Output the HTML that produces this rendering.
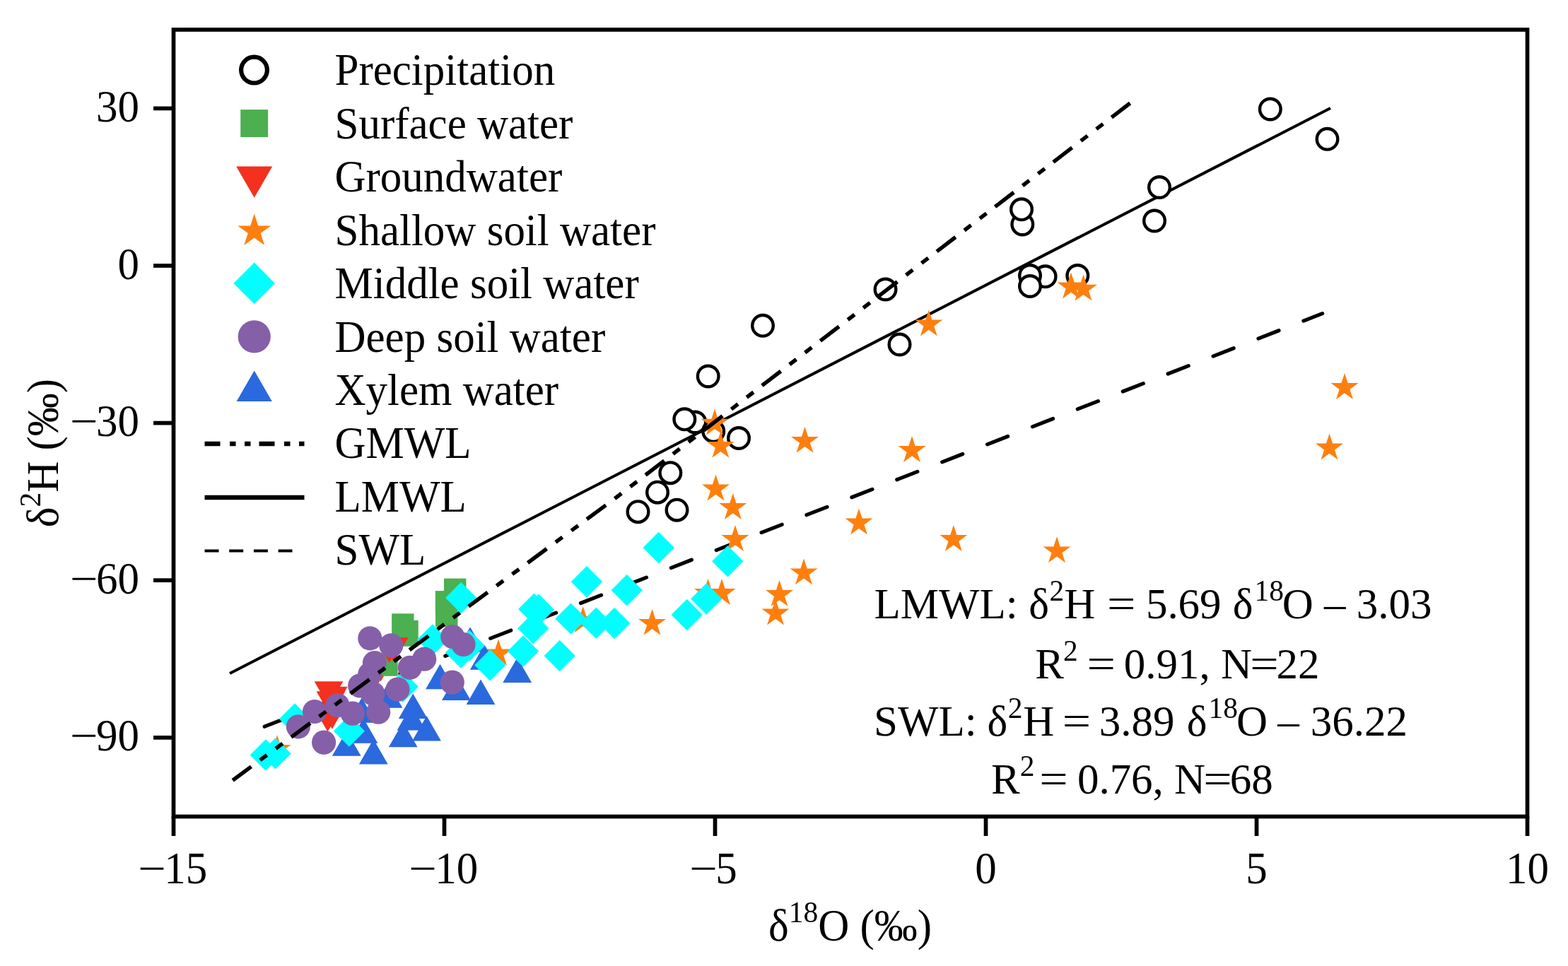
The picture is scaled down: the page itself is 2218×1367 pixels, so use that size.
<!DOCTYPE html>
<html lang="en"><head><meta charset="utf-8"><title>Isotope plot</title>
<style>html,body{margin:0;padding:0;background:#fff}body{width:2218px;height:1367px;overflow:hidden}svg{display:block}text{font-family:'Liberation Serif','Times New Roman',serif;font-size:61px;fill:#000}</style>
</head><body>
<svg width="2218" height="1367" viewBox="0 0 2218 1367">
<rect x="0" y="0" width="2218" height="1367" fill="#fff"/>
<g id="plot">
<line x1="325" y1="953" x2="1882" y2="153" stroke="#000" stroke-width="4.1"/>
<line x1="374.2" y1="1028.2" x2="1870.6" y2="443.7" stroke="#000" stroke-width="5.2" stroke-linecap="round" stroke-dasharray="31.2 37.4"/>
<circle cx="1796.8" cy="154.5" r="14.8" fill="#fff" stroke="#000" stroke-width="4.4"/>
<circle cx="1877.5" cy="196.8" r="14.8" fill="#fff" stroke="#000" stroke-width="4.4"/>
<circle cx="1640.0" cy="265.0" r="14.8" fill="#fff" stroke="#000" stroke-width="4.4"/>
<circle cx="1633.0" cy="312.5" r="14.8" fill="#fff" stroke="#000" stroke-width="4.4"/>
<circle cx="1446.3" cy="317.5" r="14.8" fill="#fff" stroke="#000" stroke-width="4.4"/>
<circle cx="1445.0" cy="296.3" r="14.8" fill="#fff" stroke="#000" stroke-width="4.4"/>
<circle cx="1478.6" cy="391.3" r="14.8" fill="#fff" stroke="#000" stroke-width="4.4"/>
<circle cx="1457.0" cy="390.0" r="14.8" fill="#fff" stroke="#000" stroke-width="4.4"/>
<circle cx="1457.0" cy="405.0" r="14.8" fill="#fff" stroke="#000" stroke-width="4.4"/>
<circle cx="1524.3" cy="390.0" r="14.8" fill="#fff" stroke="#000" stroke-width="4.4"/>
<circle cx="1252.5" cy="409.5" r="14.8" fill="#fff" stroke="#000" stroke-width="4.4"/>
<circle cx="1079.0" cy="460.8" r="14.8" fill="#fff" stroke="#000" stroke-width="4.4"/>
<circle cx="1272.5" cy="487.5" r="14.8" fill="#fff" stroke="#000" stroke-width="4.4"/>
<circle cx="1001.7" cy="532.5" r="14.8" fill="#fff" stroke="#000" stroke-width="4.4"/>
<circle cx="983.3" cy="597.5" r="14.8" fill="#fff" stroke="#000" stroke-width="4.4"/>
<circle cx="968.3" cy="593.3" r="14.8" fill="#fff" stroke="#000" stroke-width="4.4"/>
<circle cx="1009.2" cy="610.2" r="14.8" fill="#fff" stroke="#000" stroke-width="4.4"/>
<circle cx="1045.0" cy="620.0" r="14.8" fill="#fff" stroke="#000" stroke-width="4.4"/>
<circle cx="930.0" cy="696.7" r="14.8" fill="#fff" stroke="#000" stroke-width="4.4"/>
<circle cx="948.3" cy="669.2" r="14.8" fill="#fff" stroke="#000" stroke-width="4.4"/>
<circle cx="902.5" cy="724.2" r="14.8" fill="#fff" stroke="#000" stroke-width="4.4"/>
<circle cx="957.5" cy="721.7" r="14.8" fill="#fff" stroke="#000" stroke-width="4.4"/>
<polygon points="1515.0,385.5 1519.6,399.6 1534.5,399.6 1522.4,408.4 1527.0,422.5 1515.0,413.8 1503.0,422.5 1507.6,408.4 1495.5,399.6 1510.4,399.6" fill="#ff7f0e"/>
<polygon points="1532.5,388.6 1537.1,402.7 1552.0,402.7 1539.9,411.5 1544.5,425.6 1532.5,416.9 1520.5,425.6 1525.1,411.5 1513.0,402.7 1527.9,402.7" fill="#ff7f0e"/>
<polygon points="1313.8,438.5 1318.4,452.6 1333.3,452.6 1321.2,461.4 1325.8,475.5 1313.8,466.8 1301.8,475.5 1306.4,461.4 1294.3,452.6 1309.2,452.6" fill="#ff7f0e"/>
<polygon points="1011.0,578.6 1015.6,592.7 1030.5,592.7 1018.4,601.5 1023.0,615.6 1011.0,606.9 999.0,615.6 1003.6,601.5 991.5,592.7 1006.4,592.7" fill="#ff7f0e"/>
<polygon points="1019.3,610.8 1023.9,624.9 1038.8,624.9 1026.7,633.7 1031.3,647.8 1019.3,639.1 1007.3,647.8 1011.9,633.7 999.8,624.9 1014.7,624.9" fill="#ff7f0e"/>
<polygon points="1138.5,603.8 1143.1,617.9 1158.0,617.9 1145.9,626.7 1150.5,640.8 1138.5,632.1 1126.5,640.8 1131.1,626.7 1119.0,617.9 1133.9,617.9" fill="#ff7f0e"/>
<polygon points="1290.0,617.0 1294.6,631.1 1309.5,631.1 1297.4,639.9 1302.0,654.0 1290.0,645.3 1278.0,654.0 1282.6,639.9 1270.5,631.1 1285.4,631.1" fill="#ff7f0e"/>
<polygon points="1902.0,528.0 1906.6,542.1 1921.5,542.1 1909.4,550.9 1914.0,565.0 1902.0,556.3 1890.0,565.0 1894.6,550.9 1882.5,542.1 1897.4,542.1" fill="#ff7f0e"/>
<polygon points="1880.5,613.5 1885.1,627.6 1900.0,627.6 1887.9,636.4 1892.5,650.5 1880.5,641.8 1868.5,650.5 1873.1,636.4 1861.0,627.6 1875.9,627.6" fill="#ff7f0e"/>
<polygon points="1012.5,671.5 1017.1,685.6 1032.0,685.6 1019.9,694.4 1024.5,708.5 1012.5,699.8 1000.5,708.5 1005.1,694.4 993.0,685.6 1007.9,685.6" fill="#ff7f0e"/>
<polygon points="1036.8,698.0 1041.4,712.1 1056.3,712.1 1044.2,720.9 1048.8,735.0 1036.8,726.3 1024.8,735.0 1029.4,720.9 1017.3,712.1 1032.2,712.1" fill="#ff7f0e"/>
<polygon points="1215.0,719.5 1219.6,733.6 1234.5,733.6 1222.4,742.4 1227.0,756.5 1215.0,747.8 1203.0,756.5 1207.6,742.4 1195.5,733.6 1210.4,733.6" fill="#ff7f0e"/>
<polygon points="1040.0,743.0 1044.6,757.1 1059.5,757.1 1047.4,765.9 1052.0,780.0 1040.0,771.3 1028.0,780.0 1032.6,765.9 1020.5,757.1 1035.4,757.1" fill="#ff7f0e"/>
<polygon points="1348.8,743.0 1353.4,757.1 1368.3,757.1 1356.2,765.9 1360.8,780.0 1348.8,771.3 1336.8,780.0 1341.4,765.9 1329.3,757.1 1344.2,757.1" fill="#ff7f0e"/>
<polygon points="1495.0,759.3 1499.6,773.4 1514.5,773.4 1502.4,782.2 1507.0,796.3 1495.0,787.6 1483.0,796.3 1487.6,782.2 1475.5,773.4 1490.4,773.4" fill="#ff7f0e"/>
<polygon points="1137.0,790.3 1141.6,804.4 1156.5,804.4 1144.4,813.2 1149.0,827.3 1137.0,818.6 1125.0,827.3 1129.6,813.2 1117.5,804.4 1132.4,804.4" fill="#ff7f0e"/>
<polygon points="1102.5,821.0 1107.1,835.1 1122.0,835.1 1109.9,843.9 1114.5,858.0 1102.5,849.3 1090.5,858.0 1095.1,843.9 1083.0,835.1 1097.9,835.1" fill="#ff7f0e"/>
<polygon points="1097.0,847.5 1101.6,861.6 1116.5,861.6 1104.4,870.4 1109.0,884.5 1097.0,875.8 1085.0,884.5 1089.6,870.4 1077.5,861.6 1092.4,861.6" fill="#ff7f0e"/>
<polygon points="1021.0,819.0 1025.6,833.1 1040.5,833.1 1028.4,841.9 1033.0,856.0 1021.0,847.3 1009.0,856.0 1013.6,841.9 1001.5,833.1 1016.4,833.1" fill="#ff7f0e"/>
<polygon points="1001.5,818.8 1006.1,832.9 1021.0,832.9 1008.9,841.7 1013.5,855.8 1001.5,847.1 989.5,855.8 994.1,841.7 982.0,832.9 996.9,832.9" fill="#ff7f0e"/>
<polygon points="922.5,861.8 927.1,875.9 942.0,875.9 929.9,884.7 934.5,898.8 922.5,890.1 910.5,898.8 915.1,884.7 903.0,875.9 917.9,875.9" fill="#ff7f0e"/>
<polygon points="824.7,858.0 829.3,872.1 844.2,872.1 832.1,880.9 836.7,895.0 824.7,886.3 812.7,895.0 817.3,880.9 805.2,872.1 820.1,872.1" fill="#ff7f0e"/>
<polygon points="705.0,904.5 709.6,918.6 724.5,918.6 712.4,927.4 717.0,941.5 705.0,932.8 693.0,941.5 697.6,927.4 685.5,918.6 700.4,918.6" fill="#ff7f0e"/>
<polygon points="392.1,1039.9 396.7,1054.0 411.6,1054.0 399.5,1062.8 404.1,1076.9 392.1,1068.2 380.1,1076.9 384.7,1062.8 372.6,1054.0 387.5,1054.0" fill="#ff7f0e"/>
<polygon points="469.8,1069.8 510.6,1069.8 490.2,1034.4" fill="#2a69de"/>
<polygon points="507.9,1081.5 548.7,1081.5 528.3,1046.1" fill="#2a69de"/>
<polygon points="549.8,1057.3 590.6,1057.3 570.2,1021.9" fill="#2a69de"/>
<polygon points="583.1,1048.5 623.9,1048.5 603.5,1013.1" fill="#2a69de"/>
<polygon points="563.8,1016.9 604.6,1016.9 584.2,981.5" fill="#2a69de"/>
<polygon points="561.6,1033.5 602.4,1033.5 582.0,998.1" fill="#2a69de"/>
<polygon points="493.6,1051.7 534.4,1051.7 514.0,1016.3" fill="#2a69de"/>
<polygon points="602.1,975.2 642.9,975.2 622.5,939.8" fill="#2a69de"/>
<polygon points="625.0,991.0 665.8,991.0 645.4,955.6" fill="#2a69de"/>
<polygon points="659.6,996.9 700.4,996.9 680.0,961.5" fill="#2a69de"/>
<polygon points="644.6,922.7 685.4,922.7 665.0,887.3" fill="#2a69de"/>
<polygon points="664.9,947.7 705.7,947.7 685.3,912.3" fill="#2a69de"/>
<polygon points="711.3,966.0 752.1,966.0 731.7,930.6" fill="#2a69de"/>
<polygon points="528.6,1001.7 569.4,1001.7 549.0,966.3" fill="#2a69de"/>
<polygon points="491.3,1022.7 532.1,1022.7 511.7,987.3" fill="#2a69de"/>
<polygon points="518.2,928.9 559.0,928.9 538.6,964.3" fill="#f4301f"/>
<rect x="628.0" y="818.6" width="31.4" height="31.4" fill="#4caf50"/>
<rect x="615.8" y="836.1" width="31.4" height="31.4" fill="#4caf50"/>
<rect x="616.0" y="855.5" width="31.4" height="31.4" fill="#4caf50"/>
<rect x="554.1" y="868.3" width="31.4" height="31.4" fill="#4caf50"/>
<rect x="560.3" y="877.8" width="31.4" height="31.4" fill="#4caf50"/>
<rect x="559.3" y="883.3" width="31.4" height="31.4" fill="#4caf50"/>
<rect x="531.3" y="925.3" width="31.4" height="31.4" fill="#4caf50"/>
<polygon points="536.8,902.1 577.6,902.1 557.2,937.5" fill="#f4301f"/>
<polygon points="530.2,902.5 571.0,902.5 550.6,937.9" fill="#f4301f"/>
<polygon points="444.6,964.2 485.4,964.2 465.0,999.6" fill="#f4301f"/>
<polygon points="450.9,971.7 491.7,971.7 471.3,1007.1" fill="#f4301f"/>
<polygon points="447.5,978.3 488.3,978.3 467.9,1013.7" fill="#f4301f"/>
<polygon points="443.1,1000.1 483.9,1000.1 463.5,1035.5" fill="#f4301f"/>
<polygon points="449.4,996.3 490.2,996.3 469.8,1031.7" fill="#f4301f"/>
<polygon points="498.8,959.6 539.6,959.6 519.2,995.0" fill="#f4301f"/>
<polygon points="909.5,775.0 931.7,752.8 953.9,775.0 931.7,797.2" fill="#00ffff"/>
<polygon points="1007.1,794.3 1029.3,772.1 1051.5,794.3 1029.3,816.5" fill="#00ffff"/>
<polygon points="807.8,823.3 830.0,801.1 852.2,823.3 830.0,845.5" fill="#00ffff"/>
<polygon points="864.5,835.3 886.7,813.1 908.9,835.3 886.7,857.5" fill="#00ffff"/>
<polygon points="733.1,862.0 755.3,839.8 777.5,862.0 755.3,884.2" fill="#00ffff"/>
<polygon points="739.8,862.8 762.0,840.6 784.2,862.8 762.0,885.0" fill="#00ffff"/>
<polygon points="785.3,875.6 807.5,853.4 829.7,875.6 807.5,897.8" fill="#00ffff"/>
<polygon points="821.1,881.7 843.3,859.5 865.5,881.7 843.3,903.9" fill="#00ffff"/>
<polygon points="847.0,882.0 869.2,859.8 891.4,882.0 869.2,904.2" fill="#00ffff"/>
<polygon points="977.0,847.5 999.2,825.3 1021.4,847.5 999.2,869.7" fill="#00ffff"/>
<polygon points="949.5,870.0 971.7,847.8 993.9,870.0 971.7,892.2" fill="#00ffff"/>
<polygon points="732.0,889.2 754.2,867.0 776.4,889.2 754.2,911.4" fill="#00ffff"/>
<polygon points="717.8,921.5 740.0,899.3 762.2,921.5 740.0,943.7" fill="#00ffff"/>
<polygon points="769.5,928.0 791.7,905.8 813.9,928.0 791.7,950.2" fill="#00ffff"/>
<polygon points="671.1,941.3 693.3,919.1 715.5,941.3 693.3,963.5" fill="#00ffff"/>
<polygon points="630.0,846.0 652.2,823.8 674.4,846.0 652.2,868.2" fill="#00ffff"/>
<polygon points="589.6,905.4 611.8,883.2 634.0,905.4 611.8,927.6" fill="#00ffff"/>
<polygon points="629.8,923.5 652.0,901.3 674.2,923.5 652.0,945.7" fill="#00ffff"/>
<polygon points="641.8,913.7 664.0,891.5 686.2,913.7 664.0,935.9" fill="#00ffff"/>
<polygon points="547.5,971.7 569.7,949.5 591.9,971.7 569.7,993.9" fill="#00ffff"/>
<polygon points="471.7,1034.5 493.9,1012.3 516.1,1034.5 493.9,1056.7" fill="#00ffff"/>
<polygon points="394.8,1017.5 417.0,995.3 439.2,1017.5 417.0,1039.7" fill="#00ffff"/>
<polygon points="353.6,1068.5 375.8,1046.3 398.0,1068.5 375.8,1090.7" fill="#00ffff"/>
<polygon points="367.4,1066.4 389.6,1044.2 411.8,1066.4 389.6,1088.6" fill="#00ffff"/>
<circle cx="523.3" cy="903.3" r="17.1" fill="#8560a8"/>
<circle cx="553.3" cy="913.3" r="17.1" fill="#8560a8"/>
<circle cx="640.2" cy="901.0" r="17.1" fill="#8560a8"/>
<circle cx="655.5" cy="912.0" r="17.1" fill="#8560a8"/>
<circle cx="600.2" cy="932.7" r="17.1" fill="#8560a8"/>
<circle cx="579.8" cy="944.8" r="17.1" fill="#8560a8"/>
<circle cx="530.0" cy="938.0" r="17.1" fill="#8560a8"/>
<circle cx="523.3" cy="954.0" r="17.1" fill="#8560a8"/>
<circle cx="509.2" cy="970.4" r="17.1" fill="#8560a8"/>
<circle cx="527.5" cy="981.7" r="17.1" fill="#8560a8"/>
<circle cx="562.5" cy="975.6" r="17.1" fill="#8560a8"/>
<circle cx="639.8" cy="965.6" r="17.1" fill="#8560a8"/>
<circle cx="421.9" cy="1028.3" r="17.1" fill="#8560a8"/>
<circle cx="445.0" cy="1007.0" r="17.1" fill="#8560a8"/>
<circle cx="477.5" cy="998.2" r="17.1" fill="#8560a8"/>
<circle cx="498.8" cy="1009.6" r="17.1" fill="#8560a8"/>
<circle cx="535.2" cy="1007.7" r="17.1" fill="#8560a8"/>
<circle cx="458.1" cy="1050.6" r="17.1" fill="#8560a8"/>
<polyline points="329.2,1104.2 870,705.3 1598.5,146" fill="none" stroke="#000" stroke-width="5.5" stroke-dasharray="33.5 15.6 12 15.6 12 15.2" stroke-dashoffset="1"/>
</g>
<g id="axes" stroke="#000" stroke-width="5.7" fill="none" stroke-linecap="butt">
<rect x="245.5" y="42.0" width="1915.0" height="1113.5"/>
<line x1="245.5" y1="1155.5" x2="245.5" y2="1183.0"/>
<line x1="628.5" y1="1155.5" x2="628.5" y2="1183.0"/>
<line x1="1011.5" y1="1155.5" x2="1011.5" y2="1183.0"/>
<line x1="1394.5" y1="1155.5" x2="1394.5" y2="1183.0"/>
<line x1="1777.5" y1="1155.5" x2="1777.5" y2="1183.0"/>
<line x1="2160.5" y1="1155.5" x2="2160.5" y2="1183.0"/>
<line x1="245.5" y1="153.4" x2="217.0" y2="153.4"/>
<line x1="245.5" y1="376.0" x2="217.0" y2="376.0"/>
<line x1="245.5" y1="598.6" x2="217.0" y2="598.6"/>
<line x1="245.5" y1="821.2" x2="217.0" y2="821.2"/>
<line x1="245.5" y1="1043.8" x2="217.0" y2="1043.8"/>
</g>
<g id="ticklabels">
<text transform="translate(232.2,1250.3) scale(1,1.035)"><tspan x="-37.0" y="0" textLength="39.6" lengthAdjust="spacingAndGlyphs">−</tspan><tspan x="0.0" y="0">15</tspan></text>
<text transform="translate(615.2,1250.3) scale(1,1.035)"><tspan x="-37.0" y="0" textLength="39.6" lengthAdjust="spacingAndGlyphs">−</tspan><tspan x="0.0" y="0">10</tspan></text>
<text transform="translate(1012.2,1250.3) scale(1,1.035)"><tspan x="-37.0" y="0" textLength="39.6" lengthAdjust="spacingAndGlyphs">−</tspan><tspan x="0.0" y="0">5</tspan></text>
<text transform="translate(1379.2,1250.3) scale(1,1.035)"><tspan x="0.0" y="0">0</tspan></text>
<text transform="translate(1762.2,1250.3) scale(1,1.035)"><tspan x="0.0" y="0">5</tspan></text>
<text transform="translate(2130.0,1250.3) scale(1,1.035)"><tspan x="0.0" y="0">10</tspan></text>
<text transform="translate(136.0,172.0) scale(1,1.035)"><tspan x="0.0" y="0">30</tspan></text>
<text transform="translate(166.5,394.6) scale(1,1.035)"><tspan x="0.0" y="0">0</tspan></text>
<text transform="translate(136.0,617.2) scale(1,1.035)"><tspan x="-37.0" y="0" textLength="39.6" lengthAdjust="spacingAndGlyphs">−</tspan><tspan x="0.0" y="0">30</tspan></text>
<text transform="translate(136.0,839.8) scale(1,1.035)"><tspan x="-37.0" y="0" textLength="39.6" lengthAdjust="spacingAndGlyphs">−</tspan><tspan x="0.0" y="0">60</tspan></text>
<text transform="translate(136.0,1062.4) scale(1,1.035)"><tspan x="-37.0" y="0" textLength="39.6" lengthAdjust="spacingAndGlyphs">−</tspan><tspan x="0.0" y="0">90</tspan></text>
</g>
<text transform="translate(1087.0,1330.5) scale(1,1.035)"><tspan x="0.0" y="0">δ</tspan><tspan y="-24.2" font-size="41.5">18</tspan><tspan y="0">O (‰)</tspan></text>
<text transform="translate(81.7,746.3) rotate(-90) scale(1,1.035)"><tspan x="0.0" y="0">δ</tspan><tspan y="-24.2" font-size="41.5">2</tspan><tspan y="0">H (‰)</tspan></text>
<g id="legend">
<text transform="translate(473.5,120.3) scale(1,1.035)"><tspan x="0.0" y="0">Precipitation</tspan></text>
<circle cx="359.5" cy="99.1" r="18.4" fill="none" stroke="#000" stroke-width="6.2"/>
<text transform="translate(473.5,195.8) scale(1,1.035)"><tspan x="0.0" y="0">Surface water</tspan></text>
<rect x="340.2" y="155.1" width="38.9" height="38.9" fill="#4caf50"/>
<text transform="translate(473.5,271.2) scale(1,1.035)"><tspan x="0.0" y="0">Groundwater</tspan></text>
<polygon points="334.2,235.5 385.2,235.5 359.7,279.7" fill="#f4301f"/>
<text transform="translate(473.5,346.7) scale(1,1.035)"><tspan x="0.0" y="0">Shallow soil water</tspan></text>
<polygon points="359.7,302.6 365.2,319.6 383.1,319.6 368.6,330.1 374.2,347.1 359.7,336.6 345.2,347.1 350.8,330.1 336.3,319.6 354.2,319.6" fill="#ff7f0e"/>
<text transform="translate(473.5,422.1) scale(1,1.035)"><tspan x="0.0" y="0">Middle soil water</tspan></text>
<polygon points="330.4,400.9 359.7,371.6 389.0,400.9 359.7,430.2" fill="#00ffff"/>
<text transform="translate(473.5,497.6) scale(1,1.035)"><tspan x="0.0" y="0">Deep soil water</tspan></text>
<circle cx="359.7" cy="476.4" r="23.1" fill="#8560a8"/>
<text transform="translate(473.5,573.0) scale(1,1.035)"><tspan x="0.0" y="0">Xylem water</tspan></text>
<polygon points="334.6,568.1 384.8,568.1 359.7,524.5" fill="#2a69de"/>
<text transform="translate(473.5,648.4) scale(1,1.035)"><tspan x="0.0" y="0">GMWL</tspan></text>
<text transform="translate(473.5,723.9) scale(1,1.035)"><tspan x="0.0" y="0">LMWL</tspan></text>
<text transform="translate(473.5,799.4) scale(1,1.035)"><tspan x="0.0" y="0">SWL</tspan></text>
<line x1="289.5" y1="628" x2="430.5" y2="628" stroke="#000" stroke-width="6.5" stroke-dasharray="22 13.5 8.5 12.5 8.5 12"/>
<line x1="289.5" y1="704" x2="430.5" y2="704" stroke="#000" stroke-width="6.5"/>
<line x1="289.5" y1="779.5" x2="413.5" y2="779.5" stroke="#000" stroke-width="4" stroke-dasharray="20 14.7"/>
</g>
<g id="annot">
<text transform="translate(1236.5,874.7) scale(1,1.015)"><tspan x="0.0" y="0">LMWL:</tspan><tspan x="218.8" y="0">δ</tspan><tspan x="248.0" y="-24.6" font-size="41.5">2</tspan><tspan x="268.8" y="0">H</tspan><tspan x="329.6" y="0" textLength="40.4" lengthAdjust="spacingAndGlyphs">=</tspan><tspan x="384.4" y="0">5.69</tspan><tspan x="507.2" y="0">δ</tspan><tspan x="538.0" y="-24.6" font-size="41.5">18</tspan><tspan x="577.2" y="0">O</tspan><tspan x="636.5" y="0">–</tspan><tspan x="682.2" y="0">3.03</tspan></text>
<text transform="translate(1464.2,960.3) scale(1,1.015)"><tspan x="0.0" y="0">R</tspan><tspan x="39.8" y="-24.6" font-size="41.5">2</tspan><tspan x="73.3" y="0" textLength="40.4" lengthAdjust="spacingAndGlyphs">=</tspan><tspan x="125.6" y="0">0.91,</tspan><tspan x="262.8" y="0">N</tspan><tspan x="304.0" y="0" textLength="40.4" lengthAdjust="spacingAndGlyphs">=</tspan><tspan x="341.3" y="0">22</tspan></text>
<text transform="translate(1236.0,1040.7) scale(1,1.015)"><tspan x="0.0" y="0">SWL:</tspan><tspan x="160.5" y="0">δ</tspan><tspan x="189.7" y="-24.6" font-size="41.5">2</tspan><tspan x="211.2" y="0">H</tspan><tspan x="266.7" y="0" textLength="40.4" lengthAdjust="spacingAndGlyphs">=</tspan><tspan x="318.7" y="0">3.89</tspan><tspan x="442.7" y="0">δ</tspan><tspan x="473.5" y="-24.6" font-size="41.5">18</tspan><tspan x="512.9" y="0">O</tspan><tspan x="571.2" y="0">–</tspan><tspan x="617.7" y="0">36.22</tspan></text>
<text transform="translate(1402.0,1123.4) scale(1,1.015)"><tspan x="0.0" y="0">R</tspan><tspan x="40.7" y="-24.6" font-size="41.5">2</tspan><tspan x="68.3" y="0" textLength="40.4" lengthAdjust="spacingAndGlyphs">=</tspan><tspan x="121.9" y="0">0.76,</tspan><tspan x="259.1" y="0">N</tspan><tspan x="300.3" y="0" textLength="40.4" lengthAdjust="spacingAndGlyphs">=</tspan><tspan x="337.8" y="0">68</tspan></text>
</g>
</svg>
</body></html>
